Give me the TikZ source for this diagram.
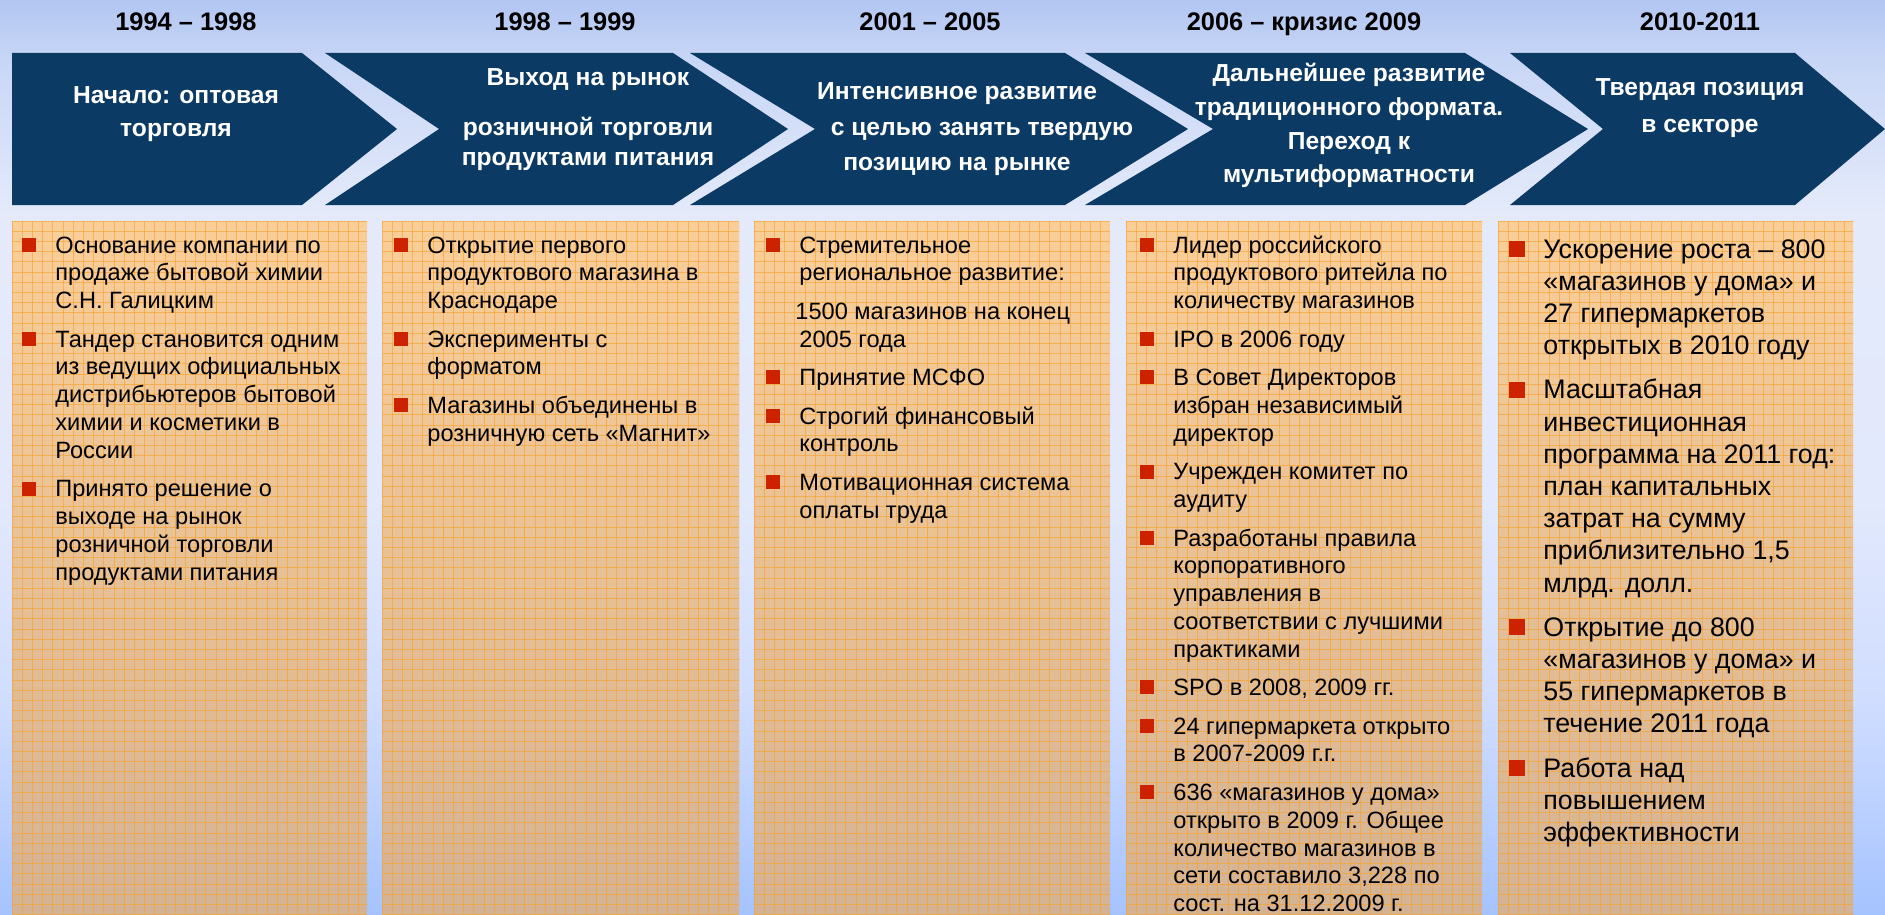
\documentclass[tikz,border=0pt]{standalone}
\usepackage{fontspec}
\setmainfont{Liberation Sans}
\definecolor{navy}{RGB}{11,58,100}
\definecolor{bred}{RGB}{204,34,0}
\definecolor{gridor}{RGB}{247,163,48}
\definecolor{boxtop}{RGB}{250,206,152}
\definecolor{boxbot}{RGB}{212,179,148}
\definecolor{skyA}{RGB}{165,195,255}
\definecolor{skyB}{RGB}{208,221,255}
\definecolor{skyC}{RGB}{226,233,252}
\definecolor{skyD}{RGB}{228,234,250}
\definecolor{skyE}{RGB}{200,214,246}
\definecolor{skyF}{RGB}{178,198,242}
\pgfdeclareverticalshading{sky}{100bp}{color(0bp)=(skyA); color(25bp)=(skyA); color(36.7bp)=(skyB); color(47.7bp)=(skyC); color(63.3bp)=(skyD); color(71.7bp)=(skyE); color(75bp)=(skyF); color(100bp)=(skyF)}
\newcommand\yearfont{\fontsize{12.7}{15}\selectfont\bfseries}
\newcommand\hf[1]{\fontsize{12.3}{#1}\selectfont\bfseries}
\newcommand\bodyfont{\fontsize{11.8}{13.9}\selectfont}
\newcommand\bigbodyfont{\fontsize{13.4}{16.1}\selectfont}
\newcommand\bul{\noindent\llap{\textcolor{bred}{\rule[0.6pt]{7pt}{7pt}}\hspace{9.5pt}}}
\newcommand\bulb{\noindent\llap{\textcolor{bred}{\rule[0.5pt]{8pt}{8pt}}\hspace{9pt}}}
\newcommand\ig{5.35pt}
\begin{document}
\begin{tikzpicture}[x=0.5pt,y=-0.5pt,
  chev/.style={fill=navy},
  boxfill/.style={top color=boxtop,bottom color=boxbot},
  gridline/.style={draw=gridor,line width=0.4pt,opacity=0.65},
  yearlbl/.style={font=\yearfont,text=black,anchor=base,inner sep=0pt},
  headtxt/.style={text=white,anchor=base,inner sep=0pt},
  bodytxt/.style={anchor=base west,inner sep=0pt,text=black}]
\useasboundingbox (0,0) rectangle (1885,915);
\shade[shading=sky] (0,0) rectangle (1885,915);

% year labels
\node[yearlbl] (y1) at (186,31) {1994 – 1998};
\node[yearlbl] (y2) at (565,31) {1998 – 1999};
\node[yearlbl] (y3) at (930,31) {2001 – 2005};
\node[yearlbl] (y4) at (1304,31) {2006 – кризис 2009};
\node[yearlbl] (y5) at (1700,31) {2010-2011};

% chevrons
\fill[chev] (12,53) -- (302,53) -- (397,129) -- (302,205) -- (12,205) -- cycle;
\fill[chev] (325,53) -- (673,53) -- (788,129) -- (673,205) -- (325,205) -- (439,129) -- cycle;
\fill[chev] (690,53) -- (1065,53) -- (1188,129) -- (1065,205) -- (690,205) -- (815,129) -- cycle;
\fill[chev] (1085,53) -- (1465,53) -- (1588,129) -- (1465,205) -- (1085,205) -- (1213,129) -- cycle;
\fill[chev] (1510,53) -- (1795,53) -- (1885,129) -- (1795,205) -- (1510,205) -- (1603,129) -- cycle;

% chevron texts
\node[headtxt] (h1) at (176,104) {\parbox[t]{220pt}{\centering\hf{16.5pt}Начало: оптовая\\торговля}};
\node[headtxt] (h2) at (588,86) {\parbox[t]{220pt}{\centering\hf{15pt}Выход на рынок\\[10pt]розничной торговли\\продуктами питания}};
\node[headtxt] (h3) at (957,100) {\parbox[t]{240pt}{\centering\hf{17.75pt}Интенсивное развитие\\\hspace*{25pt}с целью занять твердую\\позицию на рынке}};
\node[headtxt] (h4) at (1349,82) {\parbox[t]{220pt}{\centering\hf{16.8pt}Дальнейшее развитие\\традиционного формата.\\Переход к\\мультиформатности}};
\node[headtxt] (h5) at (1700,96) {\parbox[t]{220pt}{\centering\hf{18.5pt}Твердая позиция\\в секторе}};

% boxes with grid
\foreach \a/\b in {12/367,382/739,754/1110,1126/1482,1498/1853}{
  \shade[boxfill] (\a,221) rectangle (\b,915);
  \begin{scope}
    \clip (\a,221) rectangle (\b,915);
    \foreach \k in {0,...,36}{
      \draw[gridline] ({\a+\k*10.2},221) -- ({\a+\k*10.2},915);
    }
    \foreach \k in {0,...,68}{
      \draw[gridline] (\a,{221+\k*10.2}) -- (\b,{221+\k*10.2});
    }
  \end{scope}
}

% column texts
\node[bodytxt] (c1) at (55,253) {\parbox[t]{260pt}{\raggedright\bodyfont
\bul Основание компании по\\продаже бытовой химии\\С.Н. Галицким\\[\ig]
\bul Тандер становится одним\\из ведущих официальных\\дистрибьютеров бытовой\\химии и косметики в\\России\\[\ig]
\bul Принято решение о\\выходе на рынок\\розничной торговли\\продуктами питания}};

\node[bodytxt] (c2) at (427,253) {\parbox[t]{260pt}{\raggedright\bodyfont
\bul Открытие первого\\продуктового магазина в\\Краснодаре\\[\ig]
\bul Эксперименты с\\форматом\\[\ig]
\bul Магазины объединены в\\розничную сеть «Магнит»}};

\node[bodytxt] (c3) at (799,253) {\parbox[t]{260pt}{\raggedright\bodyfont
\bul Стремительное\\региональное развитие:\\[\ig]
\hspace*{-2pt}1500 магазинов на конец\\2005 года\\[\ig]
\bul Принятие МСФО\\[\ig]
\bul Строгий финансовый\\контроль\\[\ig]
\bul Мотивационная система\\оплаты труда}};

\node[bodytxt] (c4) at (1173,253) {\parbox[t]{260pt}{\raggedright\bodyfont
\bul Лидер российского\\продуктового ритейла по\\количеству магазинов\\[\ig]
\bul IPO в 2006 году\\[\ig]
\bul В Совет Директоров\\избран независимый\\директор\\[\ig]
\bul Учрежден комитет по\\аудиту\\[\ig]
\bul Разработаны правила\\корпоративного\\управления в\\соответствии с лучшими\\практиками\\[\ig]
\bul SPO в 2008, 2009 гг.\\[\ig]
\bul 24 гипермаркета открыто\\в 2007-2009 г.г.\\[\ig]
\bul 636 «магазинов у дома»\\открыто в 2009 г. Общее\\количество магазинов в\\сети составило 3,228 по\\сост. на 31.12.2009 г.}};

\node[bodytxt] (c5) at (1543,258) {\parbox[t]{260pt}{\raggedright\bigbodyfont
\bulb Ускорение роста – 800\\«магазинов у дома» и\\27 гипермаркетов\\открытых в 2010 году\\[6pt]
\bulb Масштабная\\инвестиционная\\программа на 2011 год:\\план капитальных\\затрат на сумму\\приблизительно 1,5\\млрд. долл.\\[6pt]
\bulb Открытие до 800\\«магазинов у дома» и\\55 гипермаркетов в\\течение 2011 года\\[6pt]
\bulb Работа над\\повышением\\эффективности}};
\end{tikzpicture}
\end{document}
